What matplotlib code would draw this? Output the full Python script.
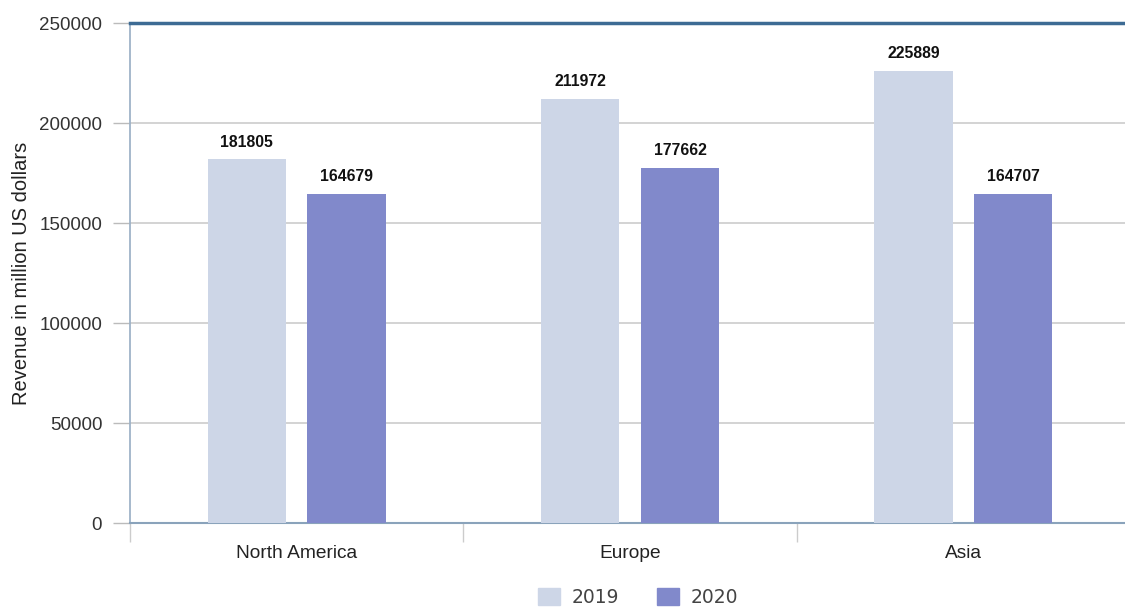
import matplotlib.pyplot as plt
import numpy as np
from matplotlib.patches import Patch

plt.rcParams["font.family"] = ["Liberation Sans", "DejaVu Sans"]

# Data
regions = ["North America", "Europe", "Asia"]
rev_2019 = [181805, 211972, 225889]
rev_2020 = [164679, 177662, 164707]
series_labels = ["2019", "2020"]
color_2019 = "#cdd6e7"
color_2020 = "#8189cb"

fig = plt.figure(figsize=(11.25, 6.15), dpi=100)
ax = fig.add_axes([130 / 1125, 1 - 523 / 615, 1000 / 1125, 500 / 615])

x = np.arange(len(regions))
w = 0.235
off = 0.15
bars1 = ax.bar(x - off, rev_2019, w, color=color_2019, zorder=3)
bars2 = ax.bar(x + off, rev_2020, w, color=color_2020, zorder=3)

# value labels
for bars in (bars1, bars2):
    for b in bars:
        ax.annotate(
            f"{int(b.get_height())}",
            (b.get_x() + b.get_width() / 2, b.get_height()),
            xytext=(0, 7),
            textcoords="offset points",
            ha="center",
            va="bottom",
            fontsize=11.3,
            fontweight="bold",
            color="#111111",
        )

ax.set_xlim(-0.5, 2.5)
ax.set_ylim(0, 250000)
ax.set_yticks(np.arange(0, 250001, 50000))
ax.grid(axis="y", color="#cccccc", linewidth=1.2, zorder=0)

ax.set_xticks(x)
ax.set_xticklabels(regions, fontsize=13.8, color="#222222")
ax.set_xticks([-0.5, 0.5, 1.5, 2.5], minor=True)
ax.tick_params(axis="x", which="major", length=0, pad=16)
ax.tick_params(axis="x", which="minor", length=14, color="#cccccc", width=1)
ax.tick_params(axis="y", length=12, color="#bbbbbb", width=1, pad=8,
               labelsize=13.5, labelcolor="#333333")

ax.set_ylabel("Revenue in million US dollars", fontsize=14.5, color="#222222",
              labelpad=6)

ax.spines["top"].set_color("#3d6b94")
ax.spines["top"].set_linewidth(2.5)
ax.spines["left"].set_color("#9fb3c8")
ax.spines["left"].set_linewidth(1.3)
ax.spines["bottom"].set_color("#8aa3bb")
ax.spines["bottom"].set_linewidth(1.5)
ax.spines["right"].set_visible(False)

handles = [Patch(color=color_2019), Patch(color=color_2020)]
leg = fig.legend(
    handles,
    series_labels,
    loc="center",
    bbox_to_anchor=(0.567, 0.029),
    ncol=2,
    frameon=False,
    prop={"family": "DejaVu Sans", "size": 13.5},
    handlelength=1.2,
    handleheight=1.0,
    columnspacing=2.0,
    handletextpad=0.6,
)
for t in leg.get_texts():
    t.set_color("#444444")

fig.savefig("out.png", dpi=100)
